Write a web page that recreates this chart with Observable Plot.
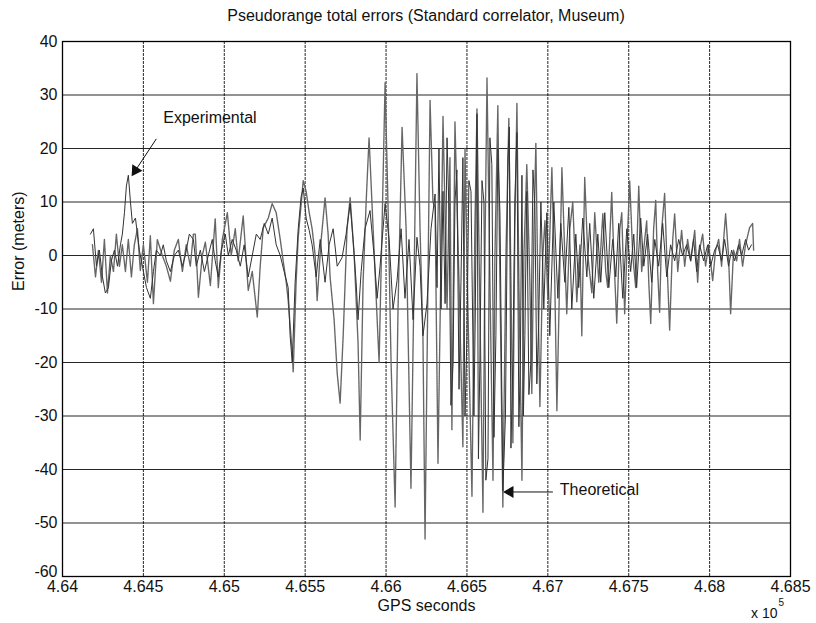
<!DOCTYPE html>
<html>
<head>
<meta charset="utf-8">
<script src="https://cdn.jsdelivr.net/npm/d3@7"></script>
<script src="https://cdn.jsdelivr.net/npm/@observablehq/plot@0.6"></script>
<style>
  body { margin: 0; background: #fff; }
  #title { height: 28px; box-sizing: border-box; padding: 7px 26px 0 62px; line-height: 18px; text-align: center;
           font: 16px "Liberation Sans", Arial, sans-serif; color: #111; }
</style>
</head>
<body>
<div id="title">Pseudorange total errors (Standard correlator, Museum)</div>
<div id="chart"></div>
<script>
// GPS seconds and error (m)
const theoX = [464185,464204,464222,464241,464259,464278,464296,464315,464333,464352,464370,464389,464407,464426,464444,464463,464481,464500,464525,464543,464562,464586,464617,464642,464667,464691,464716,464741,464765,464790,464809,464821,464840,464864,464883,464914,464944,464963,464988,465019,465043,465068,465086,465117,465148,465173,465204,465222,465241,465272,465296,465321,465346,465364,465383,465395,465420,465426,465444,465457,465488,465506,465525,465543,465562,465574,465599,465623,465642,465654,465679,465698,465716,465735,465759,465778,465803,465827,465840,465858,465877,465895,465920,465945,465957,465975,465994,466012,466031,466056,466074,466099,466124,466154,466173,466191,466210,466228,466241,466259,466272,466290,466303,466321,466340,466352,466377,466395,466407,466426,466451,466475,466488,466506,466531,466549,466562,466580,466599,466611,466624,466642,466661,466673,466691,466704,466722,466741,466759,466772,466784,466796,466809,466821,466840,466852,466870,466889,466901,466914,466926,466938,466951,466969,466982,467000,467025,467043,467056,467087,467105,467117,467136,467154,467179,467198,467210,467228,467247,467272,467290,467315,467340,467358,467370,467395,467408,467426,467445,467457,467475,467494,467506,467525,467543,467562,467580,467599,467611,467624,467636,467654,467667,467679,467691,467704,467722,467735,467753,467772,467784,467803,467827,467846,467864,467883,467908,467926,467938,467957,467975,467994,468019,468037,468056,468074,468099,468117,468130,468148,468167,468185,468204,468222,468247,468266,468272];
const theoY = [2,-4,1,-5,3,-7,0,-3,4,-2,2,-3,3,-4,2,5,-2.8,2,-5,3.7,-9,3,0,-2,-4.8,1,3,-3,2,-2,4,4,-7.8,0,2.5,-5.6,6.9,-6,3,8,0,5,-1,7.4,-6.5,-3,-11.5,-2,5.2,7,9.7,8,3,-1,-5,-8.4,-18,-21.8,-5,3.4,14,12,8,5,0,-8.4,3,10.8,4,-4,-12,-22,-27.6,-15,5,10.8,0,-16.4,-34.5,-5,10,22,5,-12,-20,5,32.3,9.6,-20,-47,-10,24,5,-43.5,-5,34,5,-15,-53,-5,29,10,9,-38.9,0,26,-10,18.3,-32.6,25,-5,-35.8,20,-10,-45,5,27.4,-10,-48,0,33.2,-5,-42,0,28,-5,-47,0,25.6,-5,-35,5,28.4,-5,-42,0,17,-5,-25.8,5,21,-5,-28.3,0,6.5,-8,16.4,-5,-29,16.4,0,-10.9,5,10,-8.7,2,-15,14.6,0,-7,8,-5,7.8,-3,-6,11.8,0,-12.7,5,8,-10.9,5,14,0,-6,13,-3,3,6.5,-5,-12.7,5,10.3,-3,-10.6,5,11.6,0,-14,3,7.8,-3,4.7,-2,3,-1,4.7,-5,1,4,-2,2,-4.7,1,3,-2,7.8,0,-10.9,1,-1,3,-2,2,5.2,6,1];

const expX = [464173,464191,464210,464228,464247,464265,464284,464302,464321,464340,464358,464370,464383,464395,464407,464420,464432,464451,464463,464475,464494,464519,464543,464562,464580,464605,464623,464642,464667,464691,464716,464741,464759,464784,464809,464827,464852,464877,464901,464926,464944,464963,464982,465006,465025,465049,465074,465099,465123,465148,465173,465198,465222,465247,465272,465296,465321,465346,465370,465395,465407,465420,465438,465457,465475,465488,465506,465525,465543,465568,465593,465623,465648,465673,465698,465728,465753,465778,465796,465815,465827,465846,465870,465901,465926,465945,465963,465994,466019,466043,466068,466093,466117,466142,466167,466191,466210,466228,466253,466278,466303,466315,466327,466340,466352,466365,466377,466389,466401,466414,466426,466438,466451,466463,466475,466488,466500,466512,466525,466543,466552,466562,466571,466580,466593,466605,466617,466630,466642,466654,466667,466679,466691,466704,466722,466738,466753,466762,466772,466784,466796,466809,466821,466830,466840,466849,466858,466870,466883,466895,466908,466920,466932,466944,466957,466975,466994,467012,467037,467062,467080,467105,467130,467148,467173,467191,467216,467241,467259,467284,467309,467327,467352,467377,467401,467420,467438,467463,467488,467512,467531,467549,467574,467593,467617,467642,467661,467685,467710,467735,467759,467784,467809,467833,467858,467883,467901,467920,467938,467963,467988,468006,468031,468050,468074,468093,468117,468136,468154,468179,468198,468222,468241,468259,468278];
const expY = [4,5,-2,1,-4,-7,-6,-1,1,-2,2,4,8,13,15,10,6,7,4,1,-2,-6,-8,-3,1,0,2,-1,-3,0,1,-2,0,4,3,-2,1,-3,0,3,-1,-4,1,4,0,3,1,-2,2,-4,0,4,3,6,4,7,2,0,-3,-6,-15,-20,-5,5,11,12.6,7,4.7,2,-4,3,-5,2,5,-2,-0.4,4,9.7,3,-5,-12,-3,5,8.4,0,-8,-2,9.7,3,-10,-4.7,5,-8,3,-12,3.4,-2,-15,-9,5,11.5,-6,20,-10,12,-9,22,8,-28,-20,10,16,-25,-5,18.3,-30,-15,14,12,-30,-10,26.5,-38,-20,14,10,-42,-38,22,17,-34,-15,20,8,-44,-30,18,24,-36,-20,10,23,-32,-20,15,-30,-15,12,-26,-20,16,9,-24,-12,10,-10,8,-15,10,-8,6,-5,9,-10,4,-6,7,-4,6,-8,4,-5,8,-6,3,-4,6,-8,5,-3,4,-6,7,-2,4,-5,3,-2,6,-4,2,-1,3,0,2,-1,3,-3,2,-1,2,-2,1,2,-1,3,-2,1,-1,2,0,3,1,2];

const xTicks = [464000,464500,465000,465500,466000,466500,467000,467500,468000,468500];
const xTickLabels = ["4.64","4.645","4.65","4.655","4.66","4.665","4.67","4.675","4.68","4.685"];
const yTicks = [-50,-40,-30,-20,-10,0,10,20,30,40];
const yBottomTick = [-60];

// annotations (data coordinates)
const noteText = ["Experimental", "Theoretical"];
const noteX = [464623, 467074];
const noteY = [25.7, -43.8];
const arrowX1 = [464580, 467031];
const arrowY1 = [21.8, -44.2];
const arrowX2 = [464451, 466766];
const arrowY2 = [15.9, -44.2];
const arrowRotate = [213, 270];

const theo = theoX.map((x, i) => ({x, y: theoY[i]}));
const exp = expX.map((x, i) => ({x, y: expY[i]}));
const notes = noteText.map((t, i) => ({t, x: noteX[i], y: noteY[i]}));
const arrows = noteText.map((t, i) => ({x1: arrowX1[i], y1: arrowY1[i], x2: arrowX2[i], y2: arrowY2[i], r: arrowRotate[i]}));

const chart = Plot.plot({
  width: 816,
  height: 595,
  marginTop: 13,
  marginBottom: 47,
  marginLeft: 62,
  marginRight: 26,
  style: {fontFamily: "'Liberation Sans', Arial, sans-serif", fontSize: "16px", color: "#111", background: "#fff", overflow: "visible"},
  x: {domain: [464000, 468500]},
  y: {domain: [-60, 40]},
  marks: [
    Plot.gridY(yTicks, {stroke: "#000", strokeOpacity: 0.85, strokeWidth: 1.2}),
    Plot.gridX(xTicks, {stroke: "#000", strokeOpacity: 0.85, strokeWidth: 1, strokeDasharray: "3,1"}),
    Plot.line(theo, {x: "x", y: "y", stroke: "#666", strokeWidth: 1.4, strokeDasharray: "1.5,0.7"}),
    Plot.line(exp, {x: "x", y: "y", stroke: "#333", strokeWidth: 1}),
    Plot.frame({stroke: "#000", strokeWidth: 1.3}),
    Plot.axisX(xTicks, {tickSize: 0, tickPadding: 4, label: null, tickFormat: d => xTickLabels[xTicks.indexOf(d)]}),
    Plot.axisY(yTicks, {tickSize: 0, tickPadding: 5, label: null, tickFormat: d => String(d)}),
    Plot.axisY(yBottomTick, {tickSize: 0, tickPadding: 5, label: null, dy: -5, tickFormat: d => String(d)}),
    Plot.text(["GPS seconds"], {frameAnchor: "bottom", lineAnchor: "middle", dy: 29}),
    Plot.text(["Error (meters)"], {frameAnchor: "left", lineAnchor: "middle", rotate: -90, dx: -44, dy: -18}),
    Plot.text(["x 10"], {frameAnchor: "bottom-right", lineAnchor: "middle", textAnchor: "end", dx: -13, dy: 37, fontSize: 14}),
    Plot.text(["5"], {frameAnchor: "bottom-right", lineAnchor: "middle", textAnchor: "start", dx: -12, dy: 26, fontSize: 10}),
    Plot.link(arrows, {x1: "x1", y1: "y1", x2: "x2", y2: "y2", stroke: "#111", strokeWidth: 1}),
    Plot.dot(arrows, {x: "x2", y: "y2", symbol: "triangle", r: 4.5, fill: "#111", stroke: "none", rotate: "r"}),
    Plot.text(notes, {x: "x", y: "y", text: "t", textAnchor: "start", fill: "#111"})
  ]
});
document.getElementById("chart").appendChild(chart);
</script>
</body>
</html>
